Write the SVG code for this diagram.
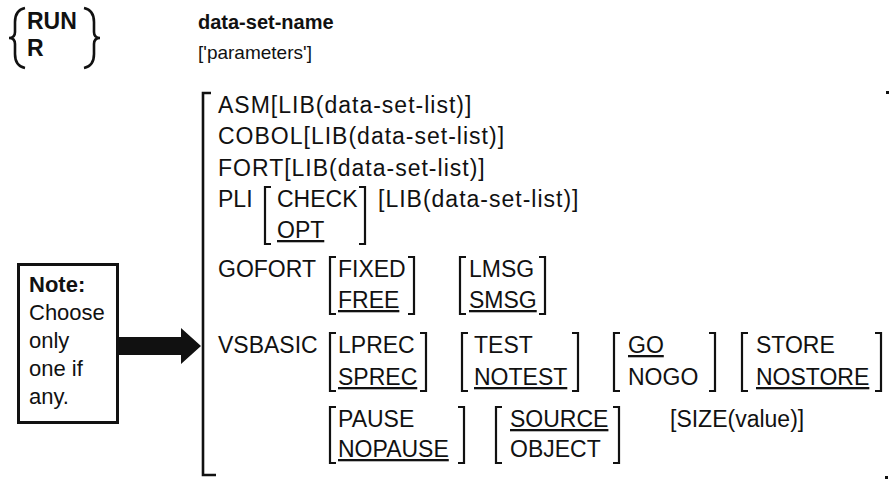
<svg xmlns="http://www.w3.org/2000/svg" width="890" height="490" viewBox="0 0 890 490">
<style>
text{font-family:"Liberation Sans",Arial,Helvetica,sans-serif;font-size:23px;fill:#111}
.b{font-weight:bold}
.u{text-decoration:underline}
.l{letter-spacing:1px}
.h{font-size:20px}
.p{font-size:19px}
.n{font-size:22px}
.br{fill:none;stroke:#111;stroke-width:2.2}
.bg{fill:none;stroke:#111;stroke-width:2.6}
</style>
<rect width="890" height="490" fill="#fff"/>

<g id="command">
  <path class="bg" d="M25 8 Q15 10 15 22 L15 32 Q15 38 9 38 Q15 38 15 44 L15 54 Q15 66 25 68"/>
  <path class="bg" d="M84 8 Q94 10 94 22 L94 32 Q94 38 100 38 Q94 38 94 44 L94 54 Q94 66 84 68"/>
  <text x="27" y="29" class="b">RUN</text>
  <text x="27" y="56" class="b">R</text>
</g>

<g id="operands">
  <text x="198" y="29" class="b h">data-set-name</text>
  <text x="198" y="59" class="p">['parameters']</text>
</g>

<g id="choice-bracket">
  <path class="bg" d="M211 93 H203 V475 H216"/>
  <rect x="886" y="91" width="3" height="3" fill="#111"/>
  <rect x="885" y="476" width="3" height="3" fill="#111"/>
</g>

<g id="asm"><text x="218" y="113" class="l">ASM[LIB(data-set-list)]</text></g>
<g id="cobol"><text x="218" y="144" class="l">COBOL[LIB(data-set-list)]</text></g>
<g id="fort"><text x="218" y="176" class="l">FORT[LIB(data-set-list)]</text></g>

<g id="pli">
  <text x="218" y="207">PLI</text>
  <path class="br" d="M271 187 H265 V244 H271"/>
  <text x="277" y="207">CHECK</text>
  <text x="277" y="238" class="u">OPT</text>
  <path class="br" d="M359 187 H365 V244 H359"/>
  <text x="378" y="207" class="l">[LIB(data-set-list)]</text>
</g>

<g id="gofort">
  <text x="218" y="277">GOFORT</text>
  <path class="br" d="M336 257 H330 V314 H336"/>
  <text x="338" y="277">FIXED</text>
  <text x="338" y="308" class="u">FREE</text>
  <path class="br" d="M408 257 H414 V314 H408"/>
  <path class="br" d="M466 257 H460 V314 H466"/>
  <text x="469" y="277">LMSG</text>
  <text x="469" y="308" class="u">SMSG</text>
  <path class="br" d="M539 257 H545 V314 H539"/>
</g>

<g id="vsbasic">
  <text x="218" y="353">VSBASIC</text>
  <path class="br" d="M336 333 H330 V391 H336"/>
  <text x="338" y="353">LPREC</text>
  <text x="338" y="385" class="u">SPREC</text>
  <path class="br" d="M420 333 H426 V391 H420"/>
  <path class="br" d="M468 333 H462 V391 H468"/>
  <text x="474" y="353">TEST</text>
  <text x="474" y="385" class="u">NOTEST</text>
  <path class="br" d="M572 333 H578 V391 H572"/>
  <path class="br" d="M620 333 H614 V391 H620"/>
  <text x="628" y="353" class="u">GO</text>
  <text x="628" y="385">NOGO</text>
  <path class="br" d="M709 333 H715 V391 H709"/>
  <path class="br" d="M748 333 H742 V391 H748"/>
  <text x="756" y="353">STORE</text>
  <text x="756" y="385" class="u">NOSTORE</text>
  <path class="br" d="M875 333 H881 V391 H875"/>
</g>

<g id="vsbasic-cont">
  <path class="br" d="M336 407 H330 V463 H336"/>
  <text x="338" y="427">PAUSE</text>
  <text x="338" y="457" class="u">NOPAUSE</text>
  <path class="br" d="M458 407 H464 V463 H458"/>
  <path class="br" d="M502 407 H496 V463 H502"/>
  <text x="510" y="427" class="u">SOURCE</text>
  <text x="510" y="457">OBJECT</text>
  <path class="br" d="M613 407 H619 V463 H613"/>
  <text x="670" y="427">[SIZE(value)]</text>
</g>

<g id="note">
  <rect x="18.5" y="264.5" width="99" height="158" fill="none" stroke="#111" stroke-width="3"/>
  <text x="29" y="292" class="b n">Note:</text>
  <text x="29" y="320" class="n">Choose</text>
  <text x="29" y="348" class="n">only</text>
  <text x="29" y="376" class="n">one if</text>
  <text x="29" y="404" class="n">any.</text>
</g>

<g id="connectors">
  <polygon points="118,337 181,337 181,328 201,346 181,364 181,355 118,355" fill="#111"/>
</g>
</svg>
